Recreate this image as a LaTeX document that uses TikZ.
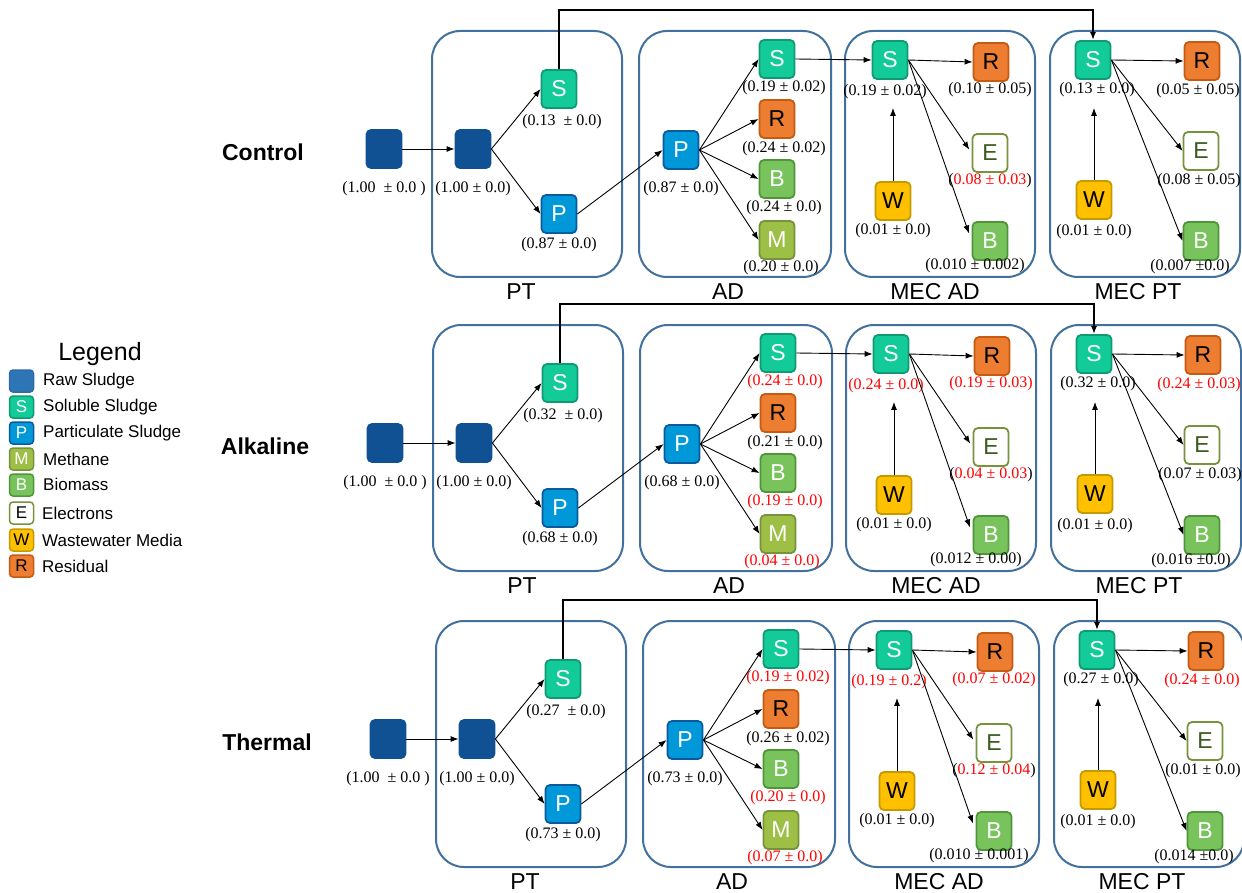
\documentclass[tikz,border=0pt]{standalone}
\usepackage{fontspec}
\setmainfont{Liberation Serif}
\setsansfont{Liberation Sans}
\usetikzlibrary{arrows.meta,calc}
\definecolor{rawc}{HTML}{0F5193}
\definecolor{rawl}{HTML}{2E75B6}
\definecolor{rawld}{HTML}{2F6AA8}
\definecolor{solc}{HTML}{13CB98}
\definecolor{sold}{HTML}{0F9A74}
\definecolor{parc}{HTML}{0098D8}
\definecolor{pard}{HTML}{0A5B9E}
\definecolor{metc}{HTML}{9EBF45}
\definecolor{metd}{HTML}{76923C}
\definecolor{bioc}{HTML}{78C35C}
\definecolor{biod}{HTML}{4F963A}
\definecolor{elcd}{HTML}{77933C}
\definecolor{elct}{HTML}{3B5B1F}
\definecolor{wasc}{HTML}{FFC000}
\definecolor{wasd}{HTML}{C49A00}
\definecolor{resc}{HTML}{ED7D31}
\definecolor{resd}{HTML}{C55A11}
\definecolor{panc}{HTML}{41719C}
\newcommand\fs[1]{\fontsize{#1}{#1}\selectfont}
\newcommand\rd[1]{\textcolor{red}{#1}}
\tikzset{
 box/.style={rounded corners=4.5pt, minimum width=35pt, minimum height=38pt, line width=1.8pt, inner sep=0pt, font=\sffamily\fs{23}},
 rawbox/.style={box, fill=rawc, draw=rawc},
 sbox/.style={box, fill=solc, draw=sold, text=white},
 pbox/.style={box, fill=parc, draw=pard, text=white},
 mbox/.style={box, fill=metc, draw=metd, text=white},
 bbox/.style={box, fill=bioc, draw=biod, text=white},
 ebox/.style={box, fill=white, draw=elcd, text=elct},
 wbox/.style={box, fill=wasc, draw=wasd, text=black},
 rbox/.style={box, fill=resc, draw=resd, text=black},
 val/.style={font=\rmfamily\fs{16}, inner sep=0pt},
 panel/.style={draw=panc, line width=2pt, rounded corners=28pt},
 plab/.style={font=\sffamily\fs{23}, inner sep=0pt},
 rowlab/.style={font=\sffamily\bfseries\fs{23}, inner sep=0pt},
 arr/.style={-{Latex[length=8pt,width=6pt]}, line width=0.9pt},
 link/.style={-{Latex[length=8pt,width=6pt]}, line width=2.2pt},
 leg/.style={font=\sffamily\fs{17}, inner sep=0pt, anchor=west},
 lbox/.style={minimum width=24pt, minimum height=22pt, rounded corners=3.5pt, line width=1.5pt, inner sep=0pt, font=\sffamily\fs{17}},
}
\newcommand\procrow[5]{%
\begin{scope}[shift={(#2,#3)}]
\node[rowlab] (#1name) at (#4,152) {#5};
\draw[panel] (432,31) rectangle (622,277);
\draw[panel] (639,31) rectangle (831,277);
\draw[panel] (845,31) rectangle (1035,277);
\draw[panel] (1050,31) rectangle (1240,277);
\node[plab] (#1lPT) at (521,292) {PT};
\node[plab] (#1lAD) at (728,292) {AD};
\node[plab] (#1lMA) at (935,292) {MEC AD};
\node[plab] (#1lMP) at (1138,292) {MEC PT};
\coordinate (#1top) at (0,10);
% PT
\node[rawbox] (#1rA) at (384,149) {};
\node[val] (#1rAl) at (384,189) {(1.00\enspace± 0.0 )};
\node[rawbox] (#1rB) at (473,149) {};
\node[val] (#1rBl) at (473,189) {(1.00 ± 0.0)};
\node[sbox] (#1pS) at (559,89) {S};
\node[val] (#1pSl) at (562,122) {\LptS};
\node[pbox] (#1pP) at (559,214) {P};
\node[val] (#1pPl) at (559,245) {\LptP};
% AD
\node[pbox] (#1aP) at (681,150) {P};
\node[val] (#1aPl) at (681,189) {\LptP};
\node[sbox] (#1aS) at (777,59) {S};
\node[val] (#1aSl) at (784,88) {\LadS};
\node[rbox] (#1aR) at (777,119) {R};
\node[val] (#1aRl) at (784,149) {\LadR};
\node[bbox] (#1aB) at (777,179) {B};
\node[val] (#1aBl) at (784,208) {\LadB};
\node[mbox] (#1aM) at (777,240) {M};
\node[val] (#1aMl) at (781,268) {\LadM};
% MEC AD
\node[sbox] (#1mS) at (890,60) {S};
\node[val] (#1mSl) at (885,92) {\LmaS};
\node[rbox] (#1mR) at (991,62) {R};
\node[val] (#1mRl) at (990,90) {\LmaR};
\node[ebox] (#1mE) at (990,153) {E};
\node[val] (#1mEl) at (990,181) {\LmaE};
\node[wbox] (#1mW) at (893,201) {W};
\node[val] (#1mWl) at (893,231) {(0.01 ± 0.0)};
\node[bbox] (#1mB) at (990,241) {B};
\node[val] (#1mBl) at (975,266) {\LmaB};
% MEC PT
\node[sbox] (#1qS) at (1093,60) {S};
\node[val] (#1qSl) at (1097,90) {\LmpS};
\node[rbox] (#1qR) at (1202,61) {R};
\node[val] (#1qRl) at (1198,91) {\LmpR};
\node[ebox] (#1qE) at (1201,151) {E};
\node[val] (#1qEl) at (1199,181) {\LmpE};
\node[wbox] (#1qW) at (1094,200) {W};
\node[val] (#1qWl) at (1094,232) {(0.01 ± 0.0)};
\node[bbox] (#1qB) at (1201,241) {B};
\node[val] (#1qBl) at (1190,267) {\LmpB};
% connectors
\draw[arr] (#1rA.east) -- (#1rB.west);
\draw[arr] (#1rB.east) -- (#1pS.west);
\draw[arr] (#1rB.east) -- (#1pP.west);
\draw[arr] (#1pP.east) -- (#1aP.west);
\draw[arr] (#1aP.east) -- (#1aS.west);
\draw[arr] (#1aP.east) -- (#1aR.west);
\draw[arr] (#1aP.east) -- (#1aB.west);
\draw[arr] (#1aP.east) -- (#1aM.west);
\draw[arr] (#1aS.east) -- (#1mS.west);
\draw[arr] (#1mS.east) -- (#1mR.west);
\draw[arr, shorten >=4pt] (#1mS.east) -- (#1mE.west);
\draw[arr, shorten >=8pt] (#1mS.east) -- (#1mB.west);
\draw[arr] (#1mW.north) -- ($(#1mW.north |- #1mS.south)+(0,28)$);
\draw[arr] (#1qS.east) -- (#1qR.west);
\draw[arr] (#1qS.east) -- (#1qE.west);
\draw[arr] (#1qS.east) -- (#1qB.west);
\draw[arr] (#1qW.north) -- ($(#1qW.north |- #1qS.south)+(0,28)$);
\draw[link] (#1pS.north) -- (#1pS.north |- #1top) -| (#1qS.north);
\end{scope}}
\begin{document}
\begin{tikzpicture}[x=1pt,y=-1pt]
\useasboundingbox[fill=white] (0,0) rectangle (1242,893);
% Legend
\node[font=\sffamily\fs{25}, inner sep=0pt] (legtitle) at (100,354) {Legend};
\node[lbox, fill=rawl, draw=rawld] (lg1) at (21.5,381) {};
\node[leg] (lt1) at (43,381) {Raw Sludge};
\node[lbox, fill=solc, draw=sold, text=white] (lg2) at (21.5,407) {S};
\node[leg] (lt2) at (43,407) {Soluble Sludge};
\node[lbox, fill=parc, draw=pard, text=white] (lg3) at (21.5,433) {P};
\node[leg] (lt3) at (43,433) {Particulate Sludge};
\node[lbox, fill=metc, draw=metd, text=white] (lg4) at (21.5,459) {M};
\node[leg] (lt4) at (43,459) {Methane};
\node[lbox, fill=bioc, draw=biod, text=white] (lg5) at (21.5,485) {B};
\node[leg] (lt5) at (43,484) {Biomass};
\node[lbox, fill=white, draw=elcd, text=black] (lg6) at (21.5,513) {E};
\node[leg] (lt6) at (42,513) {Electrons};
\node[lbox, fill=wasc, draw=wasd, text=black] (lg7) at (21.5,540) {W};
\node[leg] (lt7) at (42,540) {Wastewater Media};
\node[lbox, fill=resc, draw=resd, text=black] (lg8) at (21.5,566) {R};
\node[leg] (lt8) at (42,566) {Residual};
% Control
\def\LptS{(0.13\enspace± 0.0)}
\def\LptP{(0.87 ± 0.0)}
\def\LadS{(0.19 ± 0.02)}
\def\LadR{(0.24 ± 0.02)}
\def\LadB{(0.24 ± 0.0)}
\def\LadM{(0.20 ± 0.0)}
\def\LmaS{(0.19 ± 0.02)}
\def\LmaR{(0.10 ± 0.05)}
\def\LmaE{(\rd{0.08 ± 0.03})}
\def\LmaB{(0.010 ± 0.002)}
\def\LmpS{(0.13 ± 0.0)}
\def\LmpR{(0.05 ± 0.05)}
\def\LmpE{(0.08 ± 0.05)}
\def\LmpB{(0.007 ±0.0)}
\procrow{c}{0}{0}{263}{Control}
% Alkaline
\def\LptS{(0.32\enspace± 0.0)}
\def\LptP{(0.68 ± 0.0)}
\def\LadS{\rd{(0.24 ± 0.0)}}
\def\LadR{(0.21 ± 0.0)}
\def\LadB{\rd{(0.19 ± 0.0)}}
\def\LadM{\rd{(0.04 ± 0.0)}}
\def\LmaS{\rd{(0.24 ± 0.0)}}
\def\LmaR{\rd{(0.19 ± 0.03)}}
\def\LmaE{(\rd{0.04 ± 0.03})}
\def\LmaB{(0.012 ± 0.00)}
\def\LmpS{(0.32 ± 0.0)}
\def\LmpR{\rd{(0.24 ± 0.03)}}
\def\LmpE{(0.07 ± 0.03)}
\def\LmpB{(0.016 ±0.0)}
\procrow{a}{1}{294}{264}{Alkaline}
% Thermal
\def\LptS{(0.27\enspace± 0.0)}
\def\LptP{(0.73 ± 0.0)}
\def\LadS{\rd{(0.19 ± 0.02)}}
\def\LadR{(0.26 ± 0.02)}
\def\LadB{\rd{(0.20 ± 0.0)}}
\def\LadM{\rd{(0.07 ± 0.0)}}
\def\LmaS{\rd{(0.19 ± 0.2)}}
\def\LmaR{\rd{(0.07 ± 0.02)}}
\def\LmaE{(\rd{0.12 ± 0.04})}
\def\LmaB{(0.010 ± 0.001)}
\def\LmpS{(0.27 ± 0.0)}
\def\LmpR{\rd{(0.24 ± 0.0)}}
\def\LmpE{(0.01 ± 0.0)}
\def\LmpB{(0.014 ±0.0)}
\procrow{t}{4}{590}{263}{Thermal}
\end{tikzpicture}
\end{document}
